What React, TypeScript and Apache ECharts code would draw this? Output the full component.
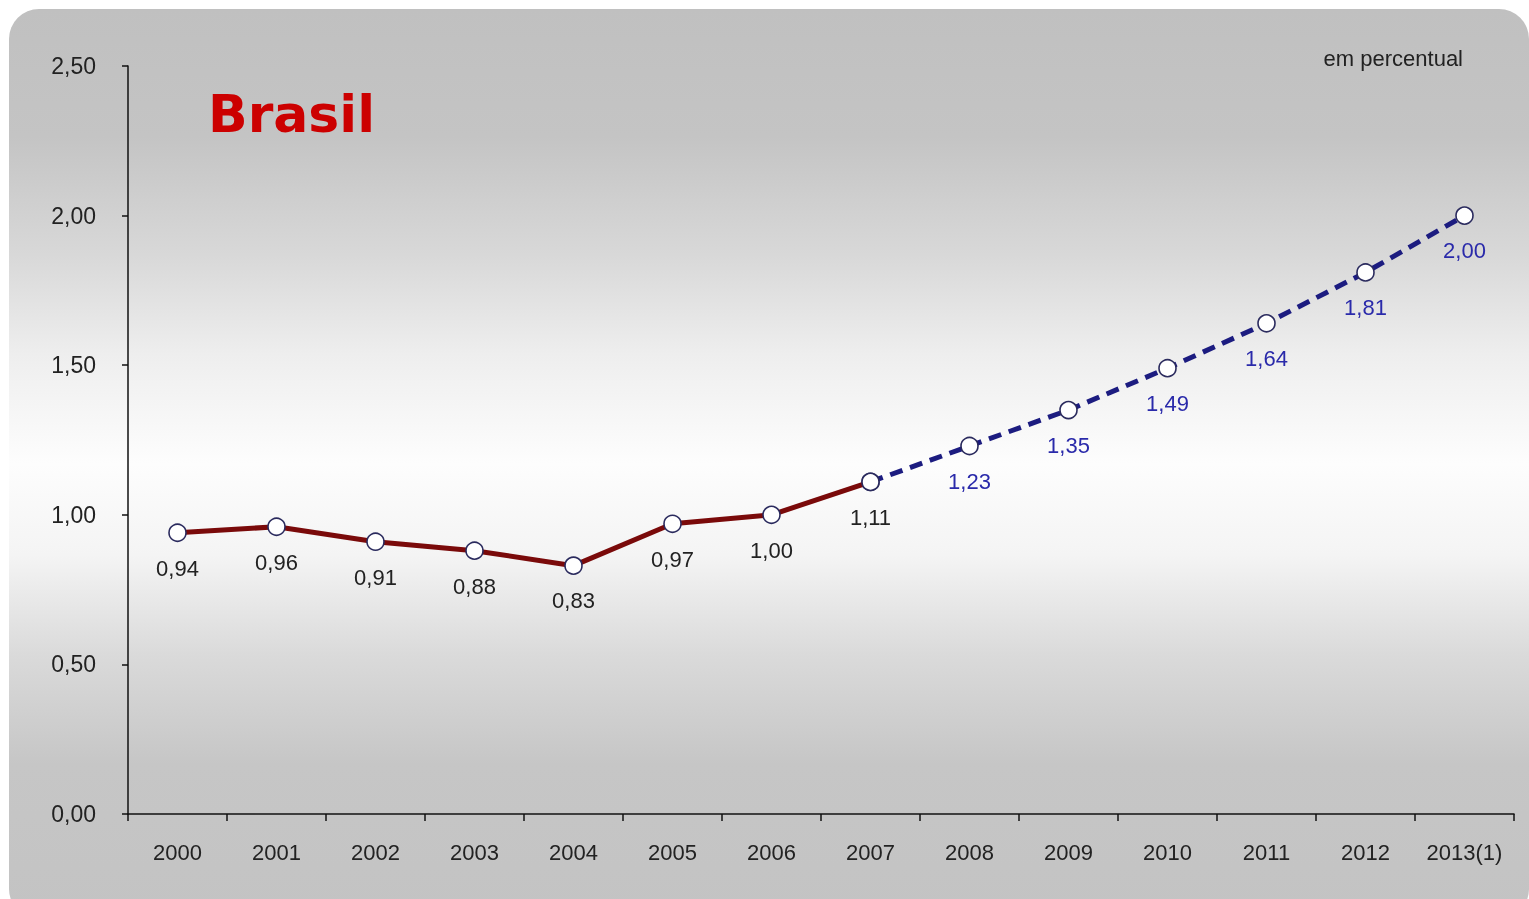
import React, { useEffect, useRef } from "react";
import * as echarts from "echarts";

const categories = ["2000", "2001", "2002", "2003", "2004", "2005", "2006", "2007", "2008", "2009", "2010", "2011", "2012", "2013(1)"];
const values = [0.94, 0.96, 0.91, 0.88, 0.83, 0.97, 1.0, 1.11, 1.23, 1.35, 1.49, 1.64, 1.81, 2.0];
const lastObserved = 7; // index of 2007
const yTicks = { min: 0, max: 2.5, interval: 0.5 };

const fmt = (v: number) => v.toFixed(2).replace(".", ",");
const FONT = "'Liberation Sans', Arial, sans-serif";
const TITLE_FONT = "'DejaVu Sans', Verdana, sans-serif";

export default function App() {
  const ref = useRef<HTMLDivElement>(null);
  useEffect(() => {
    if (!ref.current) return;
    const chart = echarts.init(ref.current, null, { renderer: "svg" });
    const observed = values.map((v, i) => (i <= lastObserved ? v : null));
    const projected = values.map((v, i) =>
      i < lastObserved ? null : i === lastObserved ? { value: v, label: { show: false } } : v
    );
    const marker = {
      symbol: "circle",
      symbolSize: 17,
      itemStyle: { color: "#ffffff", borderColor: "#2b2b5e", borderWidth: 1.6 },
    };
    chart.setOption({
      animation: false,
      graphic: [
        {
          type: "rect",
          z: -10,
          shape: { x: 9, y: 9, width: 1520, height: 910, r: 30 },
          style: {
            fill: new echarts.graphic.LinearGradient(0, 0, 0, 1, [
              { offset: 0, color: "#c0c0c0" },
              { offset: 0.14, color: "#c4c4c4" },
              { offset: 0.27, color: "#d8d8d8" },
              { offset: 0.38, color: "#eeeeee" },
              { offset: 0.5, color: "#fdfdfd" },
              { offset: 0.6, color: "#f4f4f4" },
              { offset: 0.71, color: "#dadada" },
              { offset: 0.83, color: "#c6c6c6" },
              { offset: 1, color: "#c3c3c3" },
            ]),
          },
        },
        {
          type: "text",
          left: 208,
          top: 88,
          style: { text: "Brasil", fill: "#cc0000", font: `bold 52px ${TITLE_FONT}` },
        },
        {
          type: "text",
          right: 66,
          top: 47,
          style: { text: "em percentual", fill: "#222222", font: `22px ${FONT}` },
        },
      ],
      grid: { left: 128, right: 15, top: 66, bottom: 85, containLabel: false },
      xAxis: {
        type: "category",
        data: categories,
        boundaryGap: true,
        axisLine: { lineStyle: { color: "#111111", width: 1.5 } },
        axisTick: { show: true, length: 7, alignWithLabel: false, lineStyle: { color: "#111111", width: 1.5 } },
        axisLabel: { color: "#222222", fontSize: 22, fontFamily: FONT, margin: 27, interval: 0 },
      },
      yAxis: {
        type: "value",
        min: yTicks.min,
        max: yTicks.max,
        interval: yTicks.interval,
        splitLine: { show: false },
        axisLine: { show: true, lineStyle: { color: "#111111", width: 1.5 } },
        axisTick: { show: true, length: 6, lineStyle: { color: "#111111", width: 1.5 } },
        axisLabel: { color: "#222222", fontSize: 23, fontFamily: FONT, margin: 32, formatter: (v: number) => fmt(v) },
      },
      series: [
        {
          type: "line",
          data: observed,
          z: 3,
          ...marker,
          lineStyle: { color: "#7a0a0a", width: 5 },
          label: {
            show: true,
            position: "bottom",
            distance: 15,
            color: "#222222",
            fontSize: 22,
            fontFamily: FONT,
            formatter: (p: any) => fmt(p.value),
          },
        },
        {
          type: "line",
          data: projected,
          z: 2,
          ...marker,
          lineStyle: { color: "#1c1c80", width: 5, type: [13, 8] },
          label: {
            show: true,
            position: "bottom",
            distance: 15,
            color: "#2a2aaa",
            fontSize: 22,
            fontFamily: FONT,
            formatter: (p: any) => fmt(Array.isArray(p.value) ? p.value[1] : p.value),
          },
        },
      ],
    });
    return () => chart.dispose();
  }, []);
  return <div ref={ref} style={{ position: "fixed", left: 0, top: 0, width: 1529, height: 899 }} />;
}
